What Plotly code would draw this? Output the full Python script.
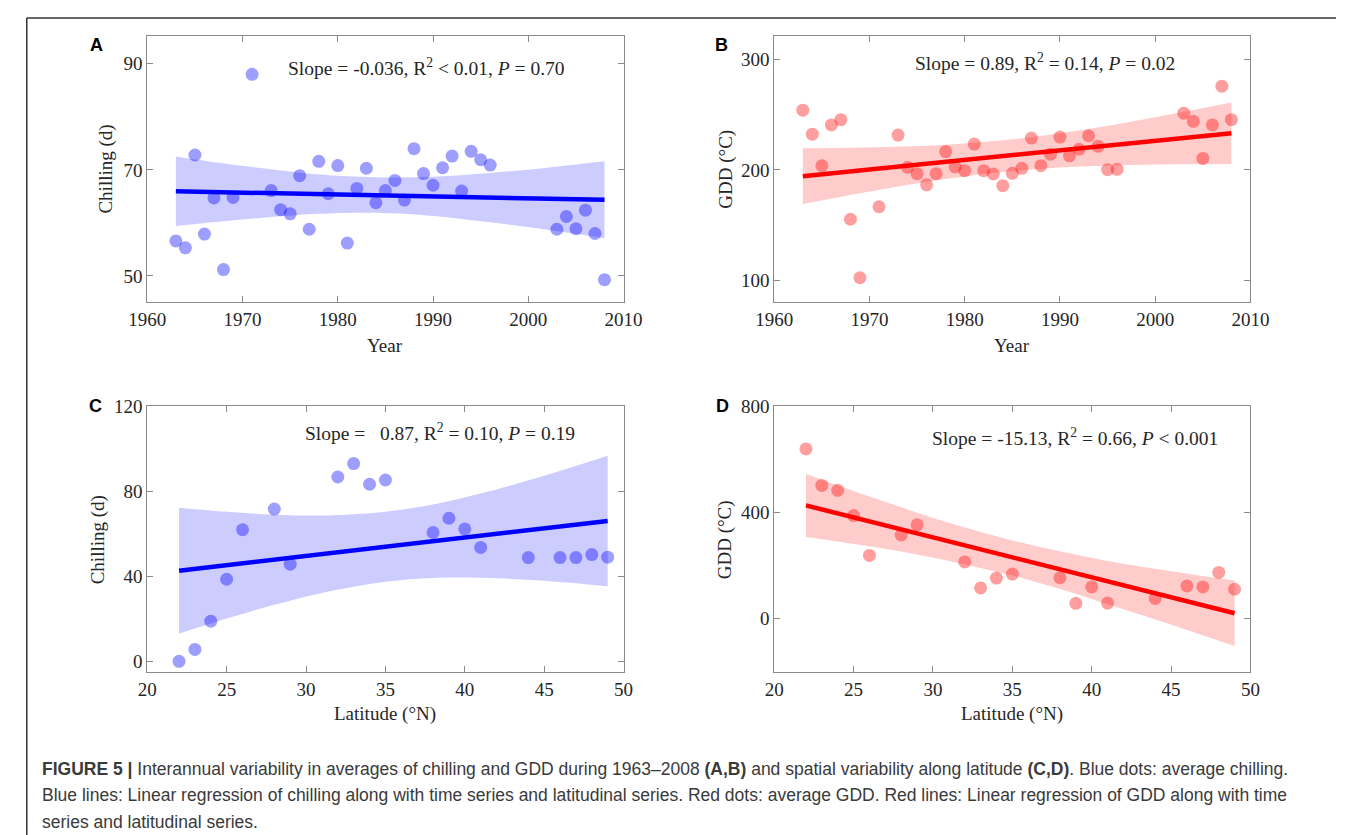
import plotly.graph_objects as go

# ---------------- data ----------------
years = [1963, 1964, 1965, 1966, 1967, 1968, 1969, 1971, 1973, 1974, 1975, 1976, 1977,
         1978, 1979, 1980, 1981, 1982, 1983, 1984, 1985, 1986, 1987, 1988, 1989, 1990,
         1991, 1992, 1993, 1994, 1995, 1996, 2003, 2004, 2005, 2006, 2007, 2008]
chill_year = [56.6, 55.3, 72.8, 57.9, 64.7, 51.2, 64.8, 88.0, 66.1, 62.5, 61.7, 68.9, 58.8,
              71.6, 65.5, 70.8, 56.2, 66.5, 70.3, 63.8, 66.1, 68.0, 64.3, 74.0, 69.3, 67.1,
              70.4, 72.6, 66.0, 73.5, 71.9, 70.9, 58.8, 61.2, 58.9, 62.4, 58.0, 49.3]
gdd_year = [254.0, 232.3, 203.9, 240.7, 245.4, 155.5, 102.7, 166.8, 231.5, 202.4, 196.7, 186.6,
            196.7, 216.6, 202.7, 199.4, 223.4, 199.4, 196.4, 185.8, 197.0, 201.5, 228.8, 203.9,
            214.2, 229.7, 212.8, 218.7, 230.9, 221.4, 200.3, 200.6, 251.3, 243.9, 210.4, 240.7,
            275.7, 245.4]

lat = [22, 23, 24, 25, 26, 28, 29, 32, 33, 34, 35, 38, 39, 40, 41, 44, 46, 47, 48, 49]
chill_lat = [0.0, 5.6, 18.9, 38.6, 61.9, 71.6, 45.7, 86.7, 93.0, 83.3, 85.3, 60.6, 67.3, 62.3,
             53.6, 48.8, 48.8, 48.8, 50.2, 49.0]
gdd_lat = [639.3, 502.0, 483.5, 388.3, 238.7, 315.3, 353.7, 214.0, 116.3, 153.4, 168.2, 154.6,
           58.2, 120.0, 59.4, 76.7, 123.7, 120.0, 174.4, 111.3]

# regression lines (end points)
fit_x_year = [1963, 2008]
fit_chill_year = [65.96, 64.34]
fit_gdd_year = [194.4, 233.2]
fit_x_lat = [22, 49]
fit_chill_lat = [42.6, 66.0]
fit_gdd_lat = [426.6, 21.0]

# confidence bands
band_x_year = [1963, 1968, 1973, 1978, 1984, 1990, 1996, 2002, 2008]
band_chill_year_hi = [72.5, 71.2, 70.1, 69.1, 68.6, 68.7, 69.4, 70.4, 71.6]
band_chill_year_lo = [59.4, 60.3, 61.1, 61.7, 61.9, 61.3, 60.1, 58.7, 57.1]
band_gdd_year_hi = [219.7, 220.1, 221.0, 222.8, 226.8, 233.2, 241.4, 250.9, 261.0]
band_gdd_year_lo = [169.2, 177.3, 185.0, 191.8, 198.2, 202.2, 204.2, 205.1, 205.5]

band_x_lat = [22, 25, 28, 31, 35, 38, 41, 45, 49]
band_chill_lat_hi = [72.2, 70.3, 69.0, 68.6, 70.4, 73.8, 78.9, 87.3, 96.7]
band_chill_lat_lo = [13.0, 20.1, 26.6, 32.2, 37.4, 39.2, 39.3, 37.9, 35.3]
band_gdd_lat_hi = [545.3, 481.3, 419.4, 361.1, 295.0, 254.0, 217.8, 179.1, 144.4]
band_gdd_lat_lo = [307.9, 281.7, 253.6, 218.0, 163.0, 112.0, 55.0, -22.0, -102.4]

stats = [
    "Slope = -0.036, R<sup>2</sup> &lt; 0.01, <i>P</i> = 0.70",
    "Slope = 0.89, R<sup>2</sup> = 0.14, <i>P</i> = 0.02",
    "Slope =\u00a0\u00a0 0.87, R<sup>2</sup> = 0.10, <i>P</i> = 0.19",
    "Slope = -15.13, R<sup>2</sup> = 0.66, <i>P</i> &lt; 0.001",
]

# ---------------- styling ----------------
W, H = 1355, 835
SERIF = "Liberation Serif, Times New Roman, serif"
SANS = "Liberation Sans, Arial, Helvetica, sans-serif"
BLUE_PT = "rgba(0,0,255,0.38)"
BLUE_BAND = "rgba(0,0,255,0.2)"
RED_PT = "rgba(255,0,0,0.38)"
RED_BAND = "rgba(255,0,0,0.2)"

def px(x):
    return x / W

def py(y):
    return 1 - y / H

fig = go.Figure()

panels = [
    dict(ax="", x=years, y=chill_year, fx=fit_x_year, fy=fit_chill_year, bx=band_x_year,
         hi=band_chill_year_hi, lo=band_chill_year_lo, pt=BLUE_PT, band=BLUE_BAND, line="#0000ff"),
    dict(ax="2", x=years, y=gdd_year, fx=fit_x_year, fy=fit_gdd_year, bx=band_x_year,
         hi=band_gdd_year_hi, lo=band_gdd_year_lo, pt=RED_PT, band=RED_BAND, line="#ff0000"),
    dict(ax="3", x=lat, y=chill_lat, fx=fit_x_lat, fy=fit_chill_lat, bx=band_x_lat,
         hi=band_chill_lat_hi, lo=band_chill_lat_lo, pt=BLUE_PT, band=BLUE_BAND, line="#0000ff"),
    dict(ax="4", x=lat, y=gdd_lat, fx=fit_x_lat, fy=fit_gdd_lat, bx=band_x_lat,
         hi=band_gdd_lat_hi, lo=band_gdd_lat_lo, pt=RED_PT, band=RED_BAND, line="#ff0000"),
]

for p in panels:
    xa, ya = "x" + p["ax"], "y" + p["ax"]
    fig.add_trace(go.Scatter(
        x=p["bx"], y=p["lo"], mode="lines", line=dict(width=0, shape="spline"),
        hoverinfo="skip", xaxis=xa, yaxis=ya))
    fig.add_trace(go.Scatter(
        x=p["bx"], y=p["hi"], mode="lines", line=dict(width=0, shape="spline"),
        fill="tonexty", fillcolor=p["band"], hoverinfo="skip", xaxis=xa, yaxis=ya))
    fig.add_trace(go.Scatter(
        x=p["x"], y=p["y"], mode="markers",
        marker=dict(size=13, color=p["pt"], line=dict(width=0)),
        xaxis=xa, yaxis=ya))
    fig.add_trace(go.Scatter(
        x=p["fx"], y=p["fy"], mode="lines", line=dict(color=p["line"], width=4.5),
        xaxis=xa, yaxis=ya))

# axis domains (pixel positions of the plot boxes)
xdom_left = [px(132), px(622)]
xdom_right = [px(777), px(1267)]
ydom_top = [py(296), py(26.5)]
ydom_bot = [py(670), py(401)]

common = dict(showline=True, linecolor="#8a8a8a", linewidth=1, mirror="allticks",
              ticks="inside", ticklen=6, tickcolor="#8a8a8a", showgrid=False, zeroline=False,
              tickfont=dict(family=SERIF, size=19, color="#262626"))

year_ticks = [1960, 1970, 1980, 1990, 2000, 2010]
lat_ticks = [20, 25, 30, 35, 40, 45, 50]

fig.update_layout(
    width=W, height=H, margin=dict(l=0, r=0, t=0, b=0),
    paper_bgcolor="white", plot_bgcolor="white", showlegend=False,
    xaxis=dict(domain=xdom_left, anchor="y", range=[1960, 2010], tickvals=year_ticks, **common),
    yaxis=dict(domain=ydom_top, anchor="x", range=[45, 95.2], tickvals=[50, 70, 90], **common),
    xaxis2=dict(domain=xdom_right, anchor="y2", range=[1960, 2010], tickvals=year_ticks, **common),
    yaxis2=dict(domain=ydom_top, anchor="x2", range=[80.4, 320.8], tickvals=[100, 200, 300], **common),
    xaxis3=dict(domain=xdom_left, anchor="y3", range=[20, 50], tickvals=lat_ticks, **common),
    yaxis3=dict(domain=ydom_bot, anchor="x3", range=[-5, 120], tickvals=[0, 40, 80, 120], **common),
    xaxis4=dict(domain=xdom_right, anchor="y4", range=[20, 50], tickvals=lat_ticks, **common),
    yaxis4=dict(domain=ydom_bot, anchor="x4", range=[-200, 800], tickvals=[0, 400, 800], **common),
)

ann = []
def text(x, y, t, size=19, family=SERIF, color="#262626", angle=0, xanchor="center"):
    ann.append(dict(x=px(x), y=py(y), xref="paper", yref="paper", text=t, showarrow=False,
                    xanchor=xanchor, yanchor="middle", textangle=angle,
                    font=dict(family=family, size=size, color=color)))

# panel letters
for letter, (lx, ly) in zip("ABCD", [(80, 35), (723, 35), (79, 401), (724, 401)]):
    text(lx, ly, "<b>%s</b>" % letter, size=18, family=SANS, color="#000000")

# statistics
for t, (sx, sy) in zip(stats, [(419, 58), (1056, 53), (433, 427), (1086, 432)]):
    text(sx, sy, t, size=19.5)

# axis titles
text(377, 340, "Year")
text(1022, 340, "Year")
text(377, 713, "Latitude (°N)")
text(1022, 713, "Latitude (°N)")
text(90, 161, "Chilling (d)", angle=-90)
text(727, 161, "GDD (°C)", angle=-90)
text(81, 536, "Chilling (d)", angle=-90)
text(726, 536, "GDD (°C)", angle=-90)

# caption
cap = [
    "<b>FIGURE 5 |</b> Interannual variability in averages of chilling and GDD during 1963–2008 "
    "<b>(A,B)</b> and spatial variability along latitude <b>(C,D)</b>. Blue dots: average chilling.",
    "Blue lines: Linear regression of chilling along with time series and latitudinal series. "
    "Red dots: average GDD. Red lines: Linear regression of GDD along with time",
    "series and latitudinal series.",
]
for i, line in enumerate(cap):
    text(22, 768 + 27 * i, line, size=17.5, family=SANS, color="#3a3a3a", xanchor="left")

fig.update_layout(annotations=ann)

# outer frame (top and left edges visible)
fig.add_shape(type="line", xref="paper", yref="paper", x0=px(8), x1=1, y0=py(8), y1=py(8),
              line=dict(color="#333333", width=1.5))
fig.add_shape(type="line", xref="paper", yref="paper", x0=px(8), x1=px(8), y0=py(8), y1=0,
              line=dict(color="#333333", width=1.5))

fig.write_html(
    "out.html",
    post_script=(
        "document.documentElement.style.margin='0';document.body.style.margin='0';"
        "document.body.style.padding='0';document.documentElement.style.overflow='hidden';"
        "document.body.style.overflow='hidden';"
    ),
)
